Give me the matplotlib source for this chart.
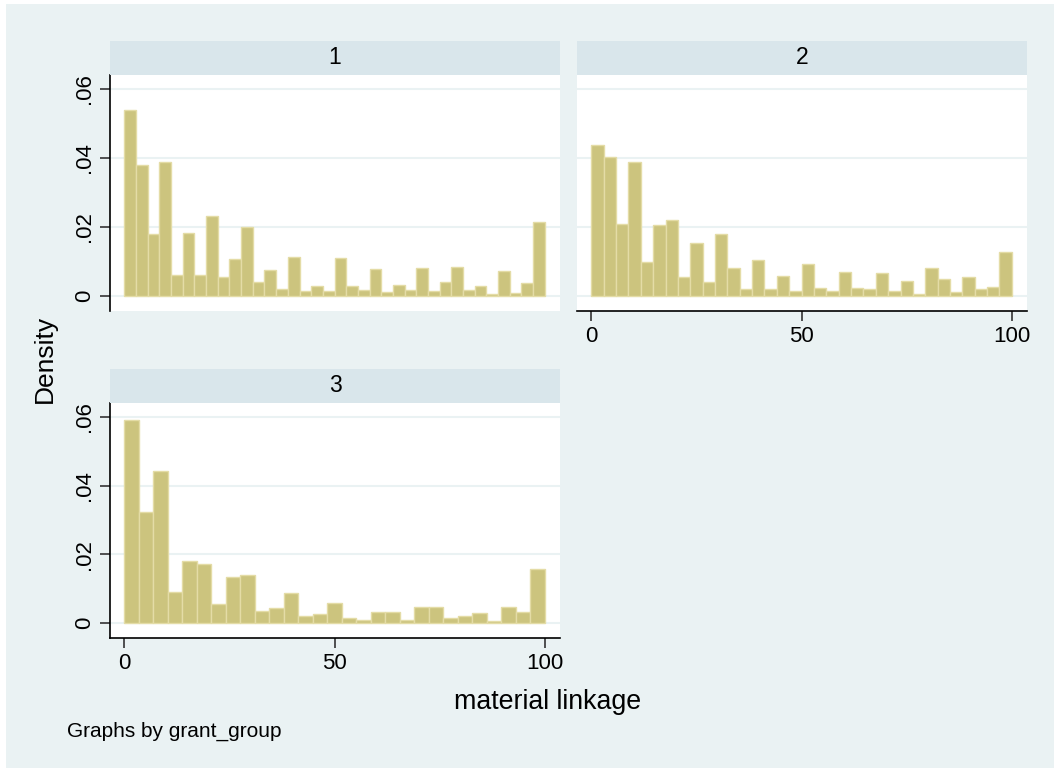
import numpy as np
import matplotlib.pyplot as plt
from matplotlib.patches import Rectangle

plt.rcParams['font.family'] = ['Liberation Sans', 'DejaVu Sans']

# density per bin (bins span 0..100)
group1 = [0.0538, 0.0379, 0.0180, 0.0388, 0.0060, 0.0183, 0.0060, 0.0232, 0.0056,
          0.0107, 0.0201, 0.0041, 0.0076, 0.0020, 0.0114, 0.0014, 0.0030, 0.0014,
          0.0110, 0.0030, 0.0018, 0.0078, 0.0013, 0.0033, 0.0018, 0.0081, 0.0014,
          0.0041, 0.0084, 0.0018, 0.0028, 0.0005, 0.0074, 0.0010, 0.0038, 0.0214]
group2 = [0.0436, 0.0404, 0.0208, 0.0387, 0.0099, 0.0205, 0.0221, 0.0056, 0.0155,
          0.0041, 0.0179, 0.0080, 0.0021, 0.0105, 0.0020, 0.0058, 0.0015, 0.0093,
          0.0024, 0.0016, 0.0071, 0.0024, 0.0020, 0.0067, 0.0015, 0.0045, 0.0006,
          0.0081, 0.0050, 0.0012, 0.0055, 0.0020, 0.0027, 0.0129]
group3 = [0.0592, 0.0324, 0.0443, 0.0090, 0.0180, 0.0171, 0.0056, 0.0133, 0.0139,
          0.0035, 0.0043, 0.0088, 0.0020, 0.0026, 0.0060, 0.0016, 0.0010, 0.0034,
          0.0034, 0.0010, 0.0046, 0.0046, 0.0014, 0.0020, 0.0030, 0.0007, 0.0046,
          0.0034, 0.0157]
groups = ['1', '2', '3']
x_min, x_max = 0, 100
xticks = [0, 50, 100]
yticks = [0, 0.02, 0.04, 0.06]
ytick_labels = ['0', '.02', '.04', '.06']

W, H = 1054, 769
BG = '#EAF2F3'
STRIP = '#D9E6EB'
FILL = '#CCC47E'
EDGE = '#E4DCA6'

fig = plt.figure(figsize=(W / 100, H / 100), dpi=100, facecolor='white')
fig.patches.append(Rectangle((6 / W, 1 / H), 1 - 6 / W, (H - 5) / H,
                             transform=fig.transFigure, facecolor=BG,
                             edgecolor='none', zorder=-10))


def rect(l, t, r, b):
    return [l / W, 1 - b / H, (r - l) / W, (b - t) / H]


# (plot box, strip box, show y axis, show x axis)
panels = [
    ((110, 75, 560, 311), (110, 41, 560, 75), True, False),
    ((577, 75, 1027, 311), (577, 41, 1027, 75), False, True),
    ((110, 403, 560, 638), (110, 369, 560, 403), True, True),
]

for dens, name, (box, sbox, show_y, show_x) in zip([group1, group2, group3], groups, panels):
    ax = fig.add_axes(rect(*box))
    ax.set_facecolor('white')
    edges = np.linspace(x_min, x_max, len(dens) + 1)
    for yv in yticks:
        ax.axhline(yv, color=BG, lw=1.5, zorder=1)
    ax.bar(edges[:-1], dens, width=np.diff(edges), align='edge',
           color=FILL, edgecolor=EDGE, linewidth=1.0, zorder=2)
    ax.set_xlim(-3.4, 103.6)
    ax.set_ylim(-0.0043, 0.064)
    for s in ax.spines.values():
        s.set_visible(False)
    if show_y:
        ax.spines['left'].set_visible(True)
        ax.spines['left'].set_linewidth(1.2)
        ax.set_yticks(yticks)
        ax.set_yticklabels(ytick_labels, rotation=90, va='center', fontsize=16)
        ax.tick_params(axis='y', length=7, width=1.2, color='#333333', pad=4)
    else:
        ax.set_yticks([])
    if show_x:
        ax.spines['bottom'].set_visible(True)
        ax.spines['bottom'].set_linewidth(1.2)
        ax.set_xticks(xticks)
        ax.set_xticklabels([str(v) for v in xticks], fontsize=16)
        ax.tick_params(axis='x', length=7, width=1.2, color='#333333', pad=4)
    else:
        ax.set_xticks([])

    sax = fig.add_axes(rect(*sbox))
    sax.set_facecolor(STRIP)
    sax.set_xticks([])
    sax.set_yticks([])
    for s in sax.spines.values():
        s.set_visible(False)
    sax.text(0.5, 0.5, name, ha='center', va='center', fontsize=16.5,
             transform=sax.transAxes)

fig.text(45 / W, 1 - 359 / H, 'Density', rotation=90, ha='center', va='center', fontsize=19)
fig.text(548 / W, 1 - 702 / H, 'material linkage', ha='center', va='center', fontsize=19.3)
fig.text(67 / W, 1 - 731 / H, 'Graphs by grant_group', ha='left', va='center', fontsize=15)

fig.savefig('out.png', dpi=100, facecolor='white')
